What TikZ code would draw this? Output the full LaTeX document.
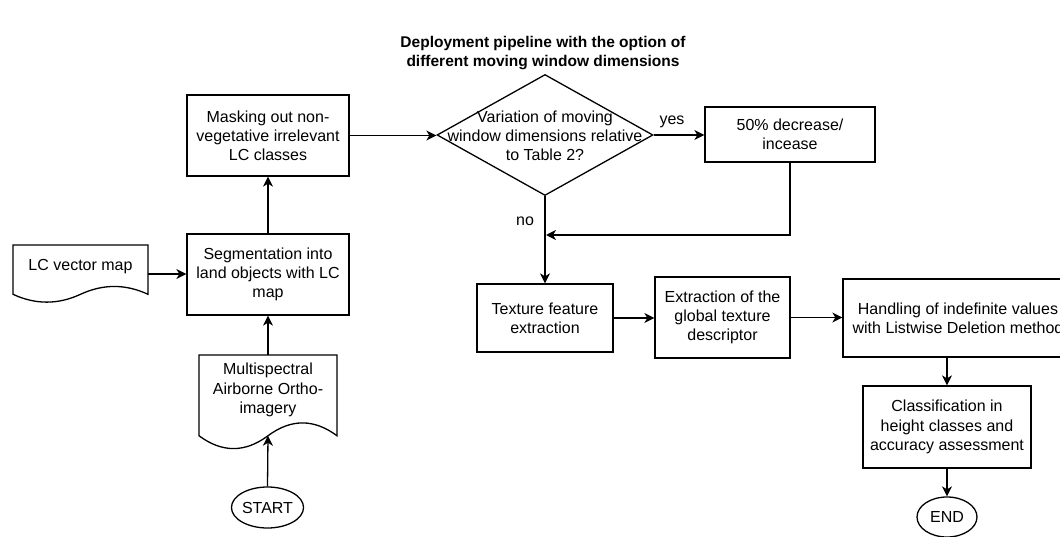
\documentclass[tikz,border=0pt]{standalone}
\usepackage{fontspec}
\setmainfont{Liberation Sans}
\usetikzlibrary{shapes.geometric,arrows.meta,calc}
\newcommand{\DocShapePath}[4]{% x0, y0, w, h
  \draw[line] (#1,#2) -- ({#1+#3},#2) -- ({#1+#3},{#2+0.85*#4})
    .. controls ({#1+0.8333*#3},{#2+0.67*#4}) and ({#1+0.6667*#3},{#2+0.67*#4}) .. ({#1+0.5*#3},{#2+0.85*#4})
    .. controls ({#1+0.3333*#3},{#2+1.03*#4}) and ({#1+0.1667*#3},{#2+1.03*#4}) .. (#1,{#2+0.85*#4})
    -- cycle;}
\begin{document}
\begin{tikzpicture}[x=1pt,y=-1pt,
  line/.style={line width=1.3pt,draw=black},
  txt/.style={font=\fontsize{16}{19.2}\selectfont,align=center,inner sep=0pt,text=black},
  box/.style={line,txt,rectangle},
  ghost/.style={draw=none,inner sep=0pt,rectangle},
  term/.style={line,txt,ellipse,inner sep=0pt},
  arr/.style={line,-{Stealth[length=10pt,width=10pt,inset=3pt]}},
  lbl/.style={txt}]
\useasboundingbox (0,0) rectangle (1060,537);

% title
\node[txt,font=\bfseries\fontsize{15.5}{18.6}\selectfont] (title) at (543,53)
  {Deployment pipeline with the option of\\different moving window dimensions};

% document shapes
\DocShapePath{13}{245}{135}{58}
\node[ghost,minimum width=135pt,minimum height=58pt] (lcmap) at (80.5,274) {};
\node[txt] (lcmapT) at (80.5,267) {LC vector map};

\DocShapePath{199}{355}{138}{95}
\node[ghost,minimum width=138pt,minimum height=95pt] (multi) at (268,402.5) {};
\node[txt] (multiT) at (268,390) {Multispectral\\Airborne Ortho-\\imagery};
\coordinate (multiwave) at (268,435.75);

% boxes
\node[box,minimum width=162pt,minimum height=81pt] (seg) at (268,274.5)
  {Segmentation into\\land objects with LC\\map};
\node[box,minimum width=162pt,minimum height=81pt] (mask) at (268,135.5)
  {Masking out non-\\vegetative irrelevant\\LC classes};
\node[line,diamond,minimum width=216pt,minimum height=121pt,inner sep=0pt] (dec) at (545,135) {};
\node[txt] (decT) at (545,136) {Variation of moving\\window dimensions relative\\to Table 2?};
\node[box,minimum width=170pt,minimum height=55pt] (pct) at (790,134.5)
  {50\% decrease/\\incease};
\node[box,minimum width=136pt,minimum height=68pt] (tex) at (545,318)
  {Texture feature\\extraction};
\node[box,minimum width=135pt,minimum height=81pt] (ext) at (722.5,317.5)
  {Extraction of the\\global texture\\descriptor};
\node[box,minimum width=230pt,minimum height=78pt] (hand) at (958,318)
  {Handling of indefinite values\\with Listwise Deletion method};
\node[box,minimum width=168pt,minimum height=82pt] (cls) at (947,427)
  {Classification in\\height classes and\\accuracy assessment};

% terminals
\node[term,minimum width=59pt,minimum height=41pt] (start) at (267.5,507.5) {START};
\node[term,minimum width=60pt,minimum height=40pt] (end) at (947,517) {END};

\coordinate (join) at (546,235);

% connectors
\draw[arr] (start.north) -- (multiwave);
\draw[arr] (multi.north) -- (seg.south);
\draw[arr] (lcmap.east) -- (lcmap.east -| seg.west);
\draw[arr] (seg.north) -- (mask.south);
\draw[arr] (mask.east) -- (mask.east -| dec.west);
\draw[arr] (dec.east) -- (dec.east -| pct.west);
\node[lbl] (yes) at (672,122) {yes};
\draw[arr] (pct.south) |- (join);
\draw[arr] (dec.south) -- (tex.north);
\node[lbl] (no) at (525,221) {no};
\draw[arr] (tex.east) -- (tex.east -| ext.west);
\draw[arr] (ext.east) -- (ext.east -| hand.west);
\draw[arr] (cls.north |- hand.south) -- (cls.north);
\draw[arr] (cls.south) -- (end.north);
\end{tikzpicture}
\end{document}
